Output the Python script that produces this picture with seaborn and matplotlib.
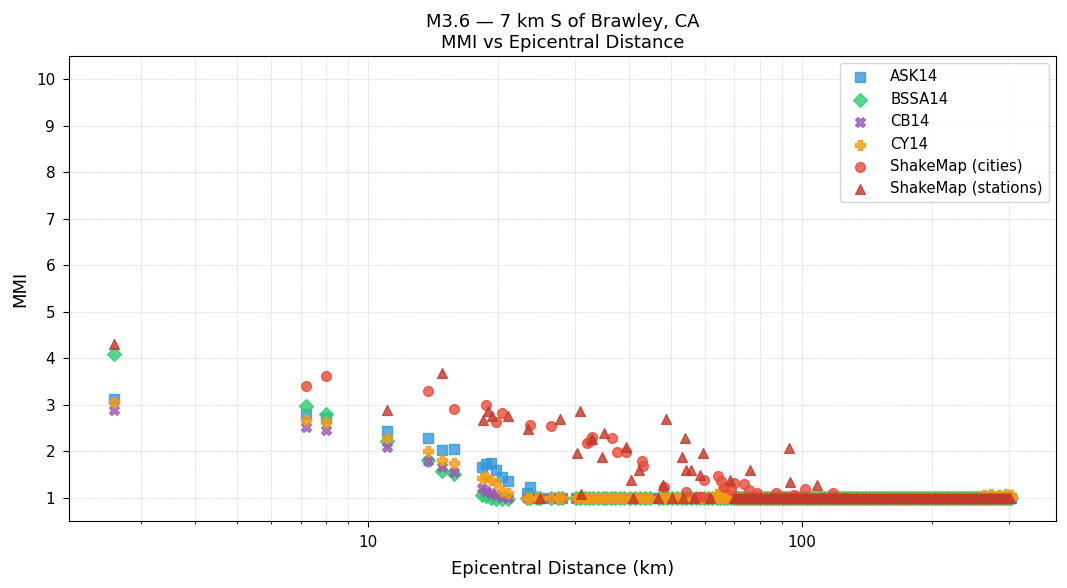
import matplotlib
matplotlib.use("Agg")
import matplotlib.pyplot as plt
from matplotlib.ticker import ScalarFormatter
import seaborn as sns

# GMPE predictions (MMI) at the close-in sites, km
near_dist = [2.6, 7.2, 8.0, 11.1, 13.8, 14.8, 15.8, 18.3, 18.7, 19.2, 19.8, 20.4, 21.0, 23.3, 23.7]
ask_near = [3.12, 2.80, 2.72, 2.43, 2.28, 2.02, 2.05, 1.66, 1.72, 1.74, 1.60, 1.45, 1.35, 1.10, 1.22]
bssa_near = [4.08, 2.98, 2.80, 2.22, 1.82, 1.58, 1.52, 1.06, 1.03, 1.00, 0.98, 0.97, 0.98, 1.00, 1.00]
cb_near = [2.88, 2.52, 2.45, 2.10, 1.80, 1.66, 1.56, 1.21, 1.15, 1.10, 1.06, 1.02, 1.00, 1.00, 1.00]
cy_near = [3.05, 2.68, 2.62, 2.28, 2.00, 1.82, 1.75, 1.43, 1.45, 1.39, 1.32, 1.15, 1.10, 1.00, 1.00]

# farther sites: every model sits on the MMI floor
MMI_FLOOR = 1.0
far_dist = [24.5, 25.0, 26.5, 27.4, 28.0, 30.2, 30.9, 31.6, 32.4, 33.1, 34.0, 34.8, 35.5,
            36.4, 37.2, 38.1, 39.0, 40.3, 41.2, 42.4, 43.5, 44.8, 47.0, 47.9, 48.9, 50.2,
            51.5, 52.9, 54.1, 55.6, 57.0, 58.4, 59.5, 61.0, 62.3, 63.8, 64.9, 66.1, 67.4,
            68.6, 69.9, 70.5, 71.2, 71.9, 72.6, 73.3, 74.0, 74.6, 75.3, 76.1, 76.9, 77.6,
            78.4, 79.2, 80.0, 80.8, 81.7, 82.4, 83.1, 83.9, 84.8, 85.6, 86.5, 87.2, 88.0,
            88.9, 89.9, 90.7, 91.6, 92.5, 93.5, 94.4, 95.4, 96.2, 97.1, 98.0, 99.0, 100.1,
            101.2, 102.1, 103.0, 104.0, 105.1, 106.2, 107.3, 108.3, 109.4, 110.5, 111.6,
            112.7, 113.9, 114.9, 116.0, 117.2, 118.4, 119.5, 120.7, 121.9, 123.1, 124.3,
            125.6, 126.8, 128.0, 129.3, 130.6, 131.9, 133.2, 134.5, 135.8, 137.1, 138.5,
            139.9, 141.3, 142.6, 144.0, 145.4, 146.9, 148.3, 149.8, 151.3, 152.8, 154.3,
            155.9, 157.4, 159.0, 160.5, 162.1, 163.7, 165.3, 166.9, 168.6, 170.3, 172.0,
            173.7, 175.4, 177.1, 178.9, 180.7, 182.5, 184.3, 186.1, 187.9, 189.8, 191.7,
            193.6, 195.5, 197.5, 199.4, 201.4, 203.4, 205.4, 207.4, 209.5, 211.6, 213.7,
            215.8, 218.0, 220.1, 222.3, 224.5, 226.8, 229.0, 231.3, 233.6, 235.9, 238.2,
            240.6, 243.0, 245.4, 247.8, 250.3, 252.8, 255.3, 257.8, 260.4, 263.0, 265.6,
            268.2, 270.9, 273.6, 276.3, 279.0, 281.8, 284.6, 287.4, 290.3, 293.2, 296.1,
            299.0, 301.5, 304.0]

# CY14 sites that stay slightly above the floor
cy_bump_dist = [63.8, 64.9, 66.1, 67.4, 68.6, 263.0, 273.6, 284.6, 296.1, 304.0]
cy_bump_mmi = [1.08, 1.12, 1.15, 1.10, 1.05, 1.05, 1.07, 1.06, 1.08, 1.05]

# ShakeMap cities
city_dist = [7.2, 8.0, 13.8, 15.8, 18.7, 19.8, 20.4, 23.7, 26.5, 32.0, 32.5, 32.8, 36.5,
             37.5, 39.3, 42.8, 43.2, 48.3, 54.2, 57.0, 58.7, 59.6, 61.0, 64.2, 65.3, 66.3,
             68.9, 70.0, 73.5, 75.5, 79.0, 84.8, 87.5, 91.4, 96.0, 101.7, 112.0, 118.0, 126.0]
city_mmi = [3.40, 3.62, 3.30, 2.90, 3.00, 2.62, 2.83, 2.57, 2.55, 2.18, 2.22, 2.30, 2.28,
            1.98, 1.98, 1.79, 1.69, 1.24, 1.13, 1.02, 1.02, 1.39, 1.00, 1.47, 1.35, 1.24,
            1.17, 1.32, 1.30, 1.17, 1.10, 1.00, 1.10, 1.02, 1.05, 1.19, 1.00, 1.10, 1.00]

# ShakeMap stations above the floor
sta_dist = [2.6, 11.1, 14.8, 18.4, 18.9, 19.3, 21.0, 23.35, 27.8, 30.3, 30.9, 31.0, 32.8,
            34.6, 35.0, 39.3, 40.5, 42.2, 47.8, 48.8, 52.9, 53.9, 54.2, 55.7, 58.4, 59.4,
            68.3, 76.2, 93.3, 93.8, 108.4]
sta_mmi = [4.30, 2.88, 3.68, 2.67, 2.86, 2.75, 2.76, 2.48, 2.69, 1.96, 2.86, 1.07, 2.26,
           1.88, 2.39, 2.09, 1.39, 1.60, 1.28, 2.69, 1.88, 2.28, 1.60, 1.60, 1.49, 1.96,
           1.39, 1.60, 2.07, 1.34, 1.28]
# stations reporting the floor value
sta_floor_dist = [24.9, 40.8, 46.7, 50.3, 53.4, 56.5, 61.5] + [d for d in far_dist if 69 <= d <= 301.5]

models = [
    ("ASK14", ask_near, "#3498db", "s"),
    ("BSSA14", bssa_near, "#2ecc71", "D"),
    ("CB14", cb_near, "#9b59b6", "X"),
    ("CY14", cy_near, "#f39c12", "P"),
]

fig, ax = plt.subplots(figsize=(10.67, 5.88), dpi=100)
fig.subplots_adjust(left=0.0647, right=0.9897, bottom=0.114, top=0.905)

kw = dict(s=50, alpha=0.8, edgecolor="face", linewidth=1.0)
for name, vals, col, mk in models:
    xs = near_dist + far_dist
    ys = vals + [MMI_FLOOR] * len(far_dist)
    if name == "CY14":
        xs = xs + cy_bump_dist
        ys = ys + cy_bump_mmi
    sns.scatterplot(x=xs, y=ys, ax=ax, color=col, marker=mk, label=name, **kw)

sns.scatterplot(x=city_dist, y=city_mmi, ax=ax, color="#e74c3c", marker="o",
                label="ShakeMap (cities)", **kw)
sns.scatterplot(x=sta_dist + sta_floor_dist,
                y=sta_mmi + [MMI_FLOOR] * len(sta_floor_dist),
                ax=ax, color="#c0392b", marker="^", label="ShakeMap (stations)", **kw)

ax.set_xscale("log")
ax.xaxis.set_major_formatter(ScalarFormatter())
ax.set_ylim(0.5, 10.5)
ax.set_yticks(range(1, 11))
ax.grid(True, which="both", linestyle="--", linewidth=0.5, color="#cccccc", alpha=0.8)
ax.set_axisbelow(True)
ax.tick_params(which="major", labelsize=11, length=4.5, pad=5.5)
ax.tick_params(which="minor", length=2.5)
ax.set_xlabel("Epicentral Distance (km)", fontsize=13, labelpad=7)
ax.set_ylabel("MMI", fontsize=13, labelpad=5)
ax.set_title("M3.6 \u2014 7 km S of Brawley, CA\nMMI vs Epicentral Distance", fontsize=13)
ax.legend(loc="upper right", fontsize=10.7, handletextpad=1.0)

fig.savefig("out.png", dpi=100)
